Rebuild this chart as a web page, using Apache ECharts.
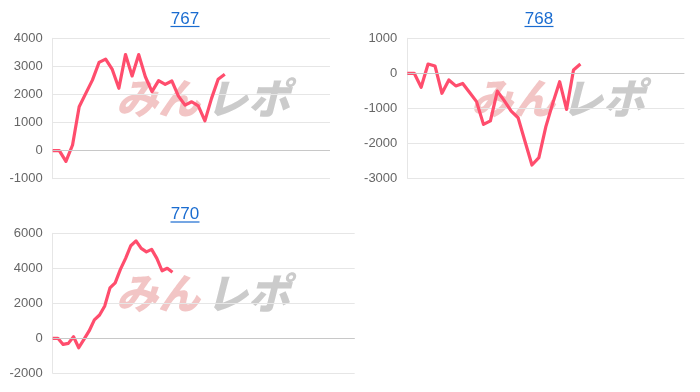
<!DOCTYPE html>
<html>
<head>
<meta charset="utf-8">
<script src="https://cdn.jsdelivr.net/npm/echarts@6/dist/echarts.min.js"></script>
<style>
html,body{margin:0;padding:0;background:#fff;}
#c{width:700px;height:392px;}
</style>
</head>
<body>
<div id="c"></div>
<script>
// ---- data ----
var titles = ['767', '768', '770'];
var values767 = [0, 0, -380, 200, 1560, 2040, 2510, 3140, 3260, 2890, 2220, 3420, 2660, 3420, 2630, 2100, 2490, 2360, 2480, 1940, 1620, 1740, 1590, 1060, 1860, 2540, 2720];
var values768 = [0, 0, -400, 265, 210, -570, -190, -360, -290, -550, -810, -1460, -1360, -510, -780, -1080, -1270, -1950, -2620, -2410, -1530, -860, -240, -1030, 95, 265];
var values770 = [0, 0, -350, -290, 90, -540, -60, 420, 1050, 1330, 1850, 2880, 3170, 3940, 4570, 5290, 5570, 5140, 4940, 5080, 4570, 3860, 4000, 3770];
var yTicks767 = {min: -1000, max: 4000, interval: 1000};
var yTicks768 = {min: -3000, max: 1000, interval: 1000};
var yTicks770 = {min: -2000, max: 6000, interval: 2000};
var xSpan = [41.9, 40, 58];

var seriesValues = [values767, values768, values770];
var yTicks = [yTicks767, yTicks768, yTicks770];

var grids = [
  {left: 52.7, top: 38.3, width: 277.3, height: 140.4},
  {left: 407.3, top: 38.3, width: 277, height: 140},
  {left: 52.7, top: 233.3, width: 302, height: 140}
];
var titlePos = [[185, 19], [539, 19], [185, 214.5]];
var markPos = [[116, 98], [471, 98], [116, 293]];

var chart = echarts.init(document.getElementById('c'), null, {renderer: 'canvas'});

var xAxes = [], yAxes = [], series = [], graphics = [];
for (var i = 0; i < 3; i++) {
  xAxes.push({
    type: 'value', gridIndex: i, min: 0, max: xSpan[i],
    axisLine: {show: false}, axisTick: {show: false}, axisLabel: {show: false}, splitLine: {show: false}
  });
  yAxes.push({
    type: 'value', gridIndex: i, min: yTicks[i].min, max: yTicks[i].max, interval: yTicks[i].interval,
    axisLine: {show: true, lineStyle: {color: '#e6e6e6', width: 1}},
    axisTick: {show: false},
    axisLabel: {color: '#666', fontSize: 13, fontFamily: 'Liberation Sans, Arial, sans-serif', margin: 10,
      formatter: function (v) { return String(v); }},
    splitLine: {show: true, lineStyle: {color: '#e6e6e6', width: 1}}
  });
  var data = seriesValues[i].map(function (v, k) { return [k, v]; });
  series.push({
    type: 'line', xAxisIndex: i, yAxisIndex: i, data: data,
    showSymbol: false, symbol: 'none', animation: false,
    lineStyle: {color: '#ff4d6d', width: 3.2, join: 'round'},
    markLine: {
      silent: true, symbol: 'none', label: {show: false}, animation: false,
      lineStyle: {color: '#c8c8c8', width: 1, type: 'solid'},
      data: [{yAxis: 0}]
    },
    z: 3
  });
  graphics.push({
    type: 'text', x: titlePos[i][0], y: titlePos[i][1],
    style: {text: titles[i], fill: '#1a6cd0', font: '17px "Liberation Sans", Arial, sans-serif', textAlign: 'center', textVerticalAlign: 'middle'}
  });
  graphics.push({
    type: 'line', shape: {x1: titlePos[i][0] - 14.5, y1: titlePos[i][1] + 7.5, x2: titlePos[i][0] + 14.5, y2: titlePos[i][1] + 7.5},
    style: {stroke: '#1a6cd0', lineWidth: 1.2}
  });
  graphics.push({
    type: 'group', x: markPos[i][0], y: markPos[i][1], z: -1,
    children: [
      {type: 'text', x: 0, y: 0, style: {text: 'みん', fill: 'rgba(232,150,150,0.55)', font: 'italic 900 42px "Noto Sans CJK JP", sans-serif', textVerticalAlign: 'middle'}},
      {type: 'text', x: 90, y: 0, style: {text: 'レポ', fill: 'rgba(160,160,160,0.55)', font: 'italic 900 42px "Noto Sans CJK JP", sans-serif', textVerticalAlign: 'middle'}}
    ]
  });
}

chart.setOption({
  animation: false,
  grid: grids,
  xAxis: xAxes,
  yAxis: yAxes,
  series: series,
  graphic: graphics
});
</script>
</body>
</html>
